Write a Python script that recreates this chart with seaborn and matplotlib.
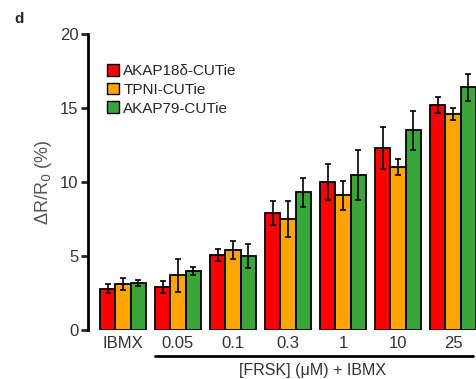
import matplotlib
matplotlib.use("Agg")
import matplotlib.pyplot as plt
import matplotlib.transforms as mtransforms
from matplotlib.patches import Patch
import seaborn as sns
import pandas as pd
import numpy as np

categories = ["IBMX", "0.05", "0.1", "0.3", "1", "10", "25"]
series = ["AKAP18\u03b4-CUTie", "TPNI-CUTie", "AKAP79-CUTie"]
akap18_vals = [2.8, 2.9, 5.1, 7.9, 10.0, 12.3, 15.2]
tpni_vals = [3.1, 3.7, 5.4, 7.5, 9.1, 11.0, 14.6]
akap79_vals = [3.2, 4.0, 5.0, 9.3, 10.5, 13.5, 16.4]
akap18_err = [0.3, 0.4, 0.4, 0.8, 1.2, 1.4, 0.55]
tpni_err = [0.4, 1.1, 0.6, 1.2, 1.0, 0.55, 0.4]
akap79_err = [0.2, 0.25, 0.8, 1.0, 1.7, 1.3, 0.9]
colors = ["#ff0000", "#ffa500", "#3aa63a"]

sns.set_theme(style="white")
plt.rcParams["font.family"] = ["Liberation Sans", "DejaVu Sans"]

rows = []
for s, vals, errs in zip(series, [akap18_vals, tpni_vals, akap79_vals],
                         [akap18_err, tpni_err, akap79_err]):
    for c, v, e in zip(categories, vals, errs):
        rows.append({"cat": c, "series": s, "val": v, "err": e})
df = pd.DataFrame(rows)

fig = plt.figure(figsize=(4.77, 3.79), dpi=100)
ax = fig.add_axes([0.1845, 0.129, 0.8155, 0.781])

sns.barplot(data=df, x="cat", y="val", hue="series", order=categories,
            hue_order=series, palette=colors, errorbar=None, width=0.83,
            gap=0, edgecolor="black", linewidth=1.3, saturation=1,
            legend=False, ax=ax)

# error bars aligned to bar patches
for i, s in enumerate(series):
    container = ax.containers[i]
    sub = df[df["series"] == s].set_index("cat").loc[categories]
    xs = [p.get_x() + p.get_width() / 2 for p in container.patches]
    ys = [p.get_height() for p in container.patches]
    ax.errorbar(xs, ys, yerr=sub["err"].values, fmt="none", ecolor="black",
                elinewidth=1.2, capsize=2.5, capthick=1.2, zorder=5)

ax.set_ylim(0, 20)
ax.set_xlim(-0.636, 6.436)
ax.set_yticks([0, 5, 10, 15, 20])
ax.set_xlabel("")
ax.set_ylabel("\u0394R/R$_0$ (%)", fontsize=13, color="#555555", labelpad=4)
for sp in ["top", "right", "bottom"]:
    ax.spines[sp].set_visible(False)
ax.spines["left"].set_linewidth(2)
ax.spines["left"].set_color("black")
ax.tick_params(axis="y", which="major", direction="out", length=5, width=2,
               left=True, labelsize=12, pad=2, labelcolor="#333333")
ax.tick_params(axis="x", length=0, labelsize=12, pad=4, labelcolor="#333333")

# underline and group label
trans = mtransforms.blended_transform_factory(ax.transData, ax.transAxes)
ax.plot([0.58, 6.36], [-0.088, -0.088], color="black", lw=2,
        transform=trans, clip_on=False)
ax.text(3.44, -0.135, "[FRSK] (\u03bcM) + IBMX", transform=trans,
        ha="center", va="center", fontsize=11.5, color="#333333")

handles = [Patch(facecolor=c, edgecolor="black", linewidth=1) for c in colors]
ax.legend(handles, series, loc="upper left", bbox_to_anchor=(0.032, 0.92),
          frameon=False, fontsize=11, handlelength=0.8, handleheight=0.8,
          handletextpad=0.3, labelspacing=0.3, borderaxespad=0)

fig.text(0.03, 0.95, "d", fontsize=11, fontweight="bold", ha="left", va="center")

fig.savefig("out.png", dpi=100)
